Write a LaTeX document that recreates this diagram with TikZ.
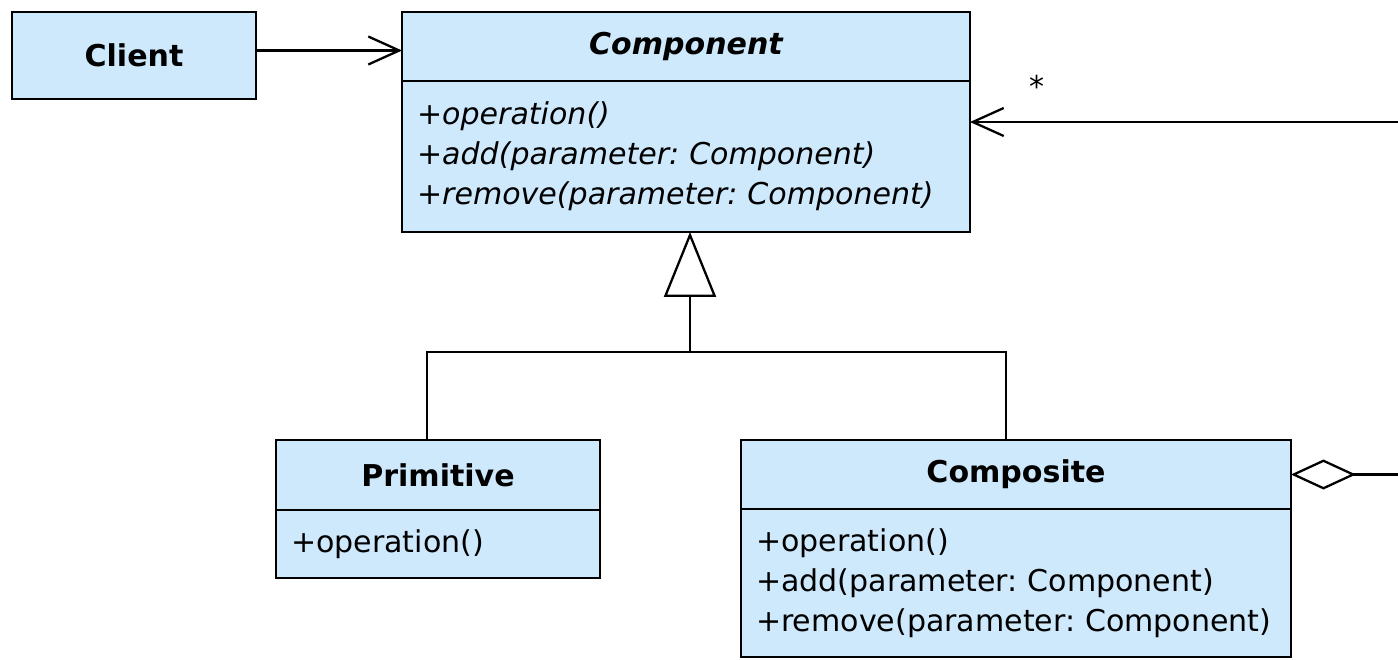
\documentclass[tikz,border=0pt]{standalone}
\usepackage{fontspec}
\setmainfont{DejaVu Sans}
\usepackage{xcolor}
\usetikzlibrary{arrows.meta,positioning}
\definecolor{umlblue}{RGB}{206,232,252}
\newcommand{\umlsize}{\fontsize{17.1}{22.8}\selectfont\frenchspacing}

\begin{document}
\begin{tikzpicture}[x=0.02cm,y=-0.02cm,line width=1.3pt,
	classbox/.style={draw,fill=umlblue,outer sep=0pt},
	classhead/.style={classbox,inner sep=0pt,font=\umlsize\bfseries},
	classops/.style={classbox,inner xsep=0.3cm,inner ysep=0pt,align=left,font=\umlsize},
	assoctip/.style={-{Straight Barb[length=0.62cm,width=0.56cm]}}]
	\useasboundingbox (0,0) rectangle (1398,659);

	% classes
	\node[classhead,minimum width=4.88cm,minimum height=1.74cm] (client) at (134,55.5) {Client};

	\node[classhead,minimum width=11.36cm,minimum height=1.38cm,font=\umlsize\bfseries\itshape] (component) at (686,46.5) {Component};
	\node[classops,text width=10.76cm,minimum height=3.02cm,font=\umlsize\itshape,below=0pt of component] (componentops)
		{+operation()\\+add(parameter: Component)\\+remove(parameter: Component)};

	\node[classhead,minimum width=6.48cm,minimum height=1.4cm] (primitive) at (438,475) {Primitive};
	\node[classops,text width=5.88cm,minimum height=1.36cm,below=0pt of primitive] (primitiveops) {+operation()};

	\node[classhead,minimum width=11cm,minimum height=1.38cm] (composite) at (1016,474.5) {Composite};
	\node[classops,text width=10.4cm,minimum height=2.96cm,below=0pt of composite] (compositeops)
		{+operation()\\+add(parameter: Component)\\+remove(parameter: Component)};

	% client uses component
	\draw[assoctip] ([yshift=0.1cm]client.east) -- ([yshift=0.1cm]client.east -| component.west);

	% generalization
	\coordinate (apex) at ([xshift=0.08cm]componentops.south);
	\coordinate (fork) at (apex |- 0,352);
	\draw[-{Triangle[open,length=1.3cm,width=1.04cm]}] (fork) -- (apex);
	\draw ([xshift=-0.22cm]primitive.north) |- (fork) -| ([xshift=-0.2cm]composite.north);

	% aggregation of children
	\coordinate (childend) at (1398,122);
	\coordinate (parentend) at (composite.east -| 1398,0);
	\draw[assoctip] (childend) -- (childend -| componentops.east);
	\draw[{Diamond[open,length=1.3cm,width=0.6cm]}-] (composite.east) -- (parentend);
	\node[font=\umlsize] (many) at (1037,86) {*};
\end{tikzpicture}
\end{document}
